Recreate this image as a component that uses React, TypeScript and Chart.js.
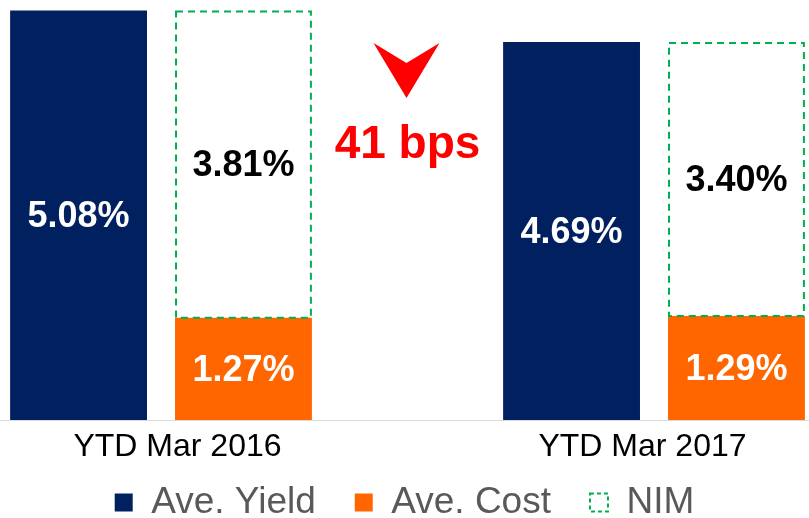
import React, { useEffect, useRef } from "react";
import { Chart, registerables } from "chart.js";

Chart.register(...registerables);

// ---- data ----
const categories = ["YTD Mar 2016", "YTD Mar 2017"];
const categoryPositions = [0, 1];
const aveYield = [5.08, 4.69];
const aveCost = [1.27, 1.29];
const nim = [3.81, 3.4];
const seriesNames = ["Ave. Yield", "Ave. Cost", "NIM"];
const changeLabel = "41 bps";

// ---- styles ----
const NAVY = "#002060";
const ORANGE = "#FF6600";
const GREEN = "#00B050";
const RED = "#FF0000";
const FONT = "'Liberation Sans', Arial, Helvetica, sans-serif";

const fmt = (v: number) => v.toFixed(2) + "%";

const overlayPlugin = {
  id: "overlay",
  afterDatasetsDraw(chart: any) {
    const ctx = chart.ctx;
    const area = chart.chartArea;
    ctx.save();

    // dashed NIM outlines
    const nimMeta = chart.getDatasetMeta(2);
    nimMeta.data.forEach((el: any) => {
      const { x, y, base, width } = el.getProps(["x", "y", "base", "width"], true);
      const left = x - width / 2;
      ctx.strokeStyle = GREEN;
      ctx.lineWidth = 2;
      ctx.setLineDash([7, 5]);
      ctx.strokeRect(left + 1, y + 1, width - 2, base - y - 1);
    });
    ctx.setLineDash([]);

    // value labels
    const labelColors = ["#FFFFFF", "#FFFFFF", "#000000"];
    chart.data.datasets.forEach((ds: any, di: number) => {
      const meta = chart.getDatasetMeta(di);
      meta.data.forEach((el: any, i: number) => {
        const { x, y, base } = el.getProps(["x", "y", "base"], true);
        ctx.fillStyle = labelColors[di];
        ctx.font = `bold 36px ${FONT}`;
        ctx.textAlign = "center";
        ctx.textBaseline = "middle";
        ctx.fillText(fmt(ds.data[i].y), x, (y + base) / 2 + 2);
      });
    });

    // change annotation between the groups
    const xs = chart.scales.x;
    const cx = (xs.getPixelForValue(categoryPositions[0]) + xs.getPixelForValue(categoryPositions[1])) / 2;
    const top = area.top;
    ctx.fillStyle = RED;
    ctx.beginPath();
    ctx.moveTo(cx - 34, top + 43);
    ctx.lineTo(cx - 1, top + 63);
    ctx.lineTo(cx + 32, top + 43);
    ctx.lineTo(cx - 1, top + 98);
    ctx.closePath();
    ctx.fill();

    ctx.font = `bold 46px ${FONT}`;
    ctx.textAlign = "center";
    ctx.textBaseline = "alphabetic";
    ctx.fillText(changeLabel, cx, top + 158);
    ctx.restore();
  },
};

export default function App() {
  const ref = useRef<HTMLCanvasElement | null>(null);

  useEffect(() => {
    if (!ref.current) return;
    const pts = (arr: number[]) => categoryPositions.map((x, i) => ({ x, y: arr[i] }));
    const common = { categoryPercentage: 0.669, barPercentage: 0.83, borderWidth: 0 };
    const chart = new Chart(ref.current, {
      type: "bar",
      data: {
        datasets: [
          { label: seriesNames[0], data: pts(aveYield), backgroundColor: NAVY, stack: "a", ...common },
          { label: seriesNames[1], data: pts(aveCost), backgroundColor: ORANGE, stack: "b", ...common },
          { label: seriesNames[2], data: pts(nim), backgroundColor: "rgba(255,255,255,0)", borderColor: GREEN, stack: "b", ...common },
        ],
      },
      options: {
        animation: false,
        responsive: true,
        maintainAspectRatio: false,
        layout: { padding: 0 },
        scales: {
          x: {
            type: "linear",
            display: false,
            offset: false,
            min: -0.3266,
            max: 1.3144,
            afterBuildTicks: (scale: any) => {
              scale.ticks = categoryPositions.map((v) => ({ value: v }));
            },
          },
          xLabels: {
            type: "linear",
            position: "bottom",
            axis: "x",
            offset: false,
            min: -0.3817,
            max: 1.3581,
            grid: { display: false, drawTicks: false },
            border: { display: true, color: "#D9D9D9", width: 1 },
            afterBuildTicks: (scale: any) => {
              scale.ticks = categoryPositions.map((v) => ({ value: v }));
            },
            afterFit: (scale: any) => {
              scale.height = 25;
            },
            ticks: {
              mirror: true,
              padding: -46,
              color: "#000000",
              font: { family: FONT, size: 32 },
              maxRotation: 0,
              autoSkip: false,
              callback: (v: any) => {
                const idx = categoryPositions.indexOf(Number(v));
                return idx >= 0 ? categories[idx] : "";
              },
            },
          },
          y: {
            display: false,
            min: 0,
            max: 5.211,
          },
        },
        plugins: {
          tooltip: { enabled: false },
          legend: {
            position: "bottom",
            maxHeight: 73,
            labels: {
              color: "#595959",
              font: { family: FONT, size: 37 },
              boxWidth: 18,
              boxHeight: 18,
              padding: 39,
              generateLabels: (c: any) => {
                const items = Chart.defaults.plugins.legend.labels.generateLabels(c);
                items.forEach((it: any, i: number) => {
                  if (i === 2) {
                    it.fillStyle = "#FFFFFF";
                    it.strokeStyle = GREEN;
                    it.lineWidth = 2;
                    it.lineDash = [4, 3];
                  } else {
                    it.lineWidth = 0;
                  }
                });
                return items;
              },
            },
          },
        },
      },
      plugins: [overlayPlugin],
    } as any);
    return () => chart.destroy();
  }, []);

  return (
    <div style={{ position: "absolute", left: 0, top: 0, width: 809, height: 518, background: "#FFFFFF" }}>
      <canvas ref={ref} />
    </div>
  );
}
